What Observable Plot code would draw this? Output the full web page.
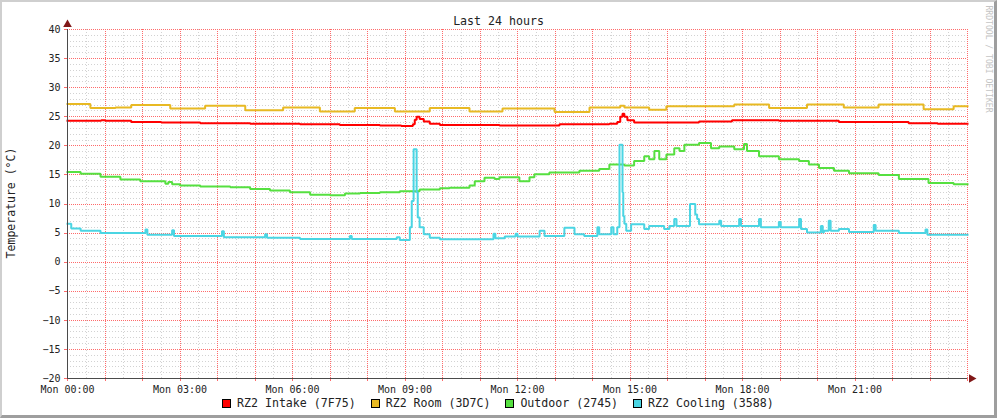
<!DOCTYPE html>
<html><head><meta charset="utf-8">
<script src="https://cdn.jsdelivr.net/npm/d3@7"></script>
<script src="https://cdn.jsdelivr.net/npm/@observablehq/plot@0.6"></script>
<style>
html,body{margin:0;padding:0;background:#fff;}
#wrap{position:relative;width:997px;height:418px;background:#fff;overflow:hidden;font-family:"DejaVu Sans Mono",monospace;color:#222;}
#frame{position:absolute;left:0;top:0;width:997px;height:418px;box-sizing:border-box;border-top:2px solid #cfcfcf;border-left:2px solid #cfcfcf;border-right:3px solid #9e9e9e;border-bottom:3px solid #9e9e9e;pointer-events:none;}
#chart{position:absolute;left:0;top:0;}
#title{position:absolute;left:0;top:14px;width:997px;text-align:center;font-size:11.6px;line-height:14px;color:#222;}
#ylabel{position:absolute;left:-89px;top:196px;width:200px;height:14px;line-height:14px;text-align:center;font-size:11.5px;transform:rotate(-90deg);color:#222;}
#credit{position:absolute;left:929px;top:54px;width:120px;height:10px;line-height:10px;text-align:center;font-size:8.1px;transform:rotate(90deg);color:#c4c4c4;}
#legend{position:absolute;left:222px;top:396px;display:flex;align-items:center;font-size:11.6px;line-height:14px;color:#222;white-space:pre;}
.item{display:flex;align-items:center;margin-right:15px;}
.box{width:9px;height:9px;box-sizing:border-box;border:1px solid #000;margin-right:6px;}
</style></head>
<body>
<div id="wrap">
  <div id="chart"></div>
  <div id="title"></div>
  <div id="ylabel"></div>
  <div id="credit"></div>
  <div id="legend"></div>
  <div id="frame"></div>
</div>
<script>
// ---- texts ----
const titleText = "Last 24 hours";
const yLabelText = "Temperature (°C)";
const creditText = "RRDTOOL / TOBI OETIKER";
const xTickHours = [0, 3, 6, 9, 12, 15, 18, 21];
const xTickLabels = ["Mon 00:00", "Mon 03:00", "Mon 06:00", "Mon 09:00", "Mon 12:00", "Mon 15:00", "Mon 18:00", "Mon 21:00"];
const yTicks = [-20, -15, -10, -5, 0, 5, 10, 15, 20, 25, 30, 35, 40];
const seriesNames = ["RZ2 Intake (7F75)", "RZ2 Room (3D7C)", "Outdoor (2745)", "RZ2 Cooling (3588)"];

// ---- data: [hour since Mon 00:00, °C] ----
const intake = [[0,24.3],[0.9,24.4],[1.0,24.3],[1.7,24.1],[2.5,24.0],[3.54,23.9],[4.87,23.8],[6.2,23.7],[7.26,23.6],[8.33,23.5],[8.9,23.4],[9.21,23.7],[9.26,24.5],[9.31,25.0],[9.39,24.6],[9.5,24.2],[9.66,23.8],[9.93,23.6],[11.52,23.5],[13.12,23.7],[14.45,23.8],[14.66,24.1],[14.74,25.0],[14.8,25.5],[14.85,25.0],[14.93,24.4],[15.11,24.0],[16.84,24.2],[17.72,24.4],[18.97,24.3],[20.57,24.1],[22.43,23.9],[23.2,23.8],[24,23.8]];
const room = [[0,27.2],[0.61,26.5],[1.28,26.6],[1.7,27.0],[2.74,26.4],[3.67,26.9],[4.74,26.1],[5.75,26.6],[6.73,25.9],[7.66,26.5],[8.73,25.9],[9.66,26.5],[10.72,25.9],[11.6,26.4],[12.99,25.8],[13.92,26.6],[14.74,26.9],[14.85,26.6],[15.51,26.2],[15.97,26.8],[17.78,27.1],[18.71,26.5],[19.72,27.1],[20.7,26.6],[21.63,27.1],[22.83,26.3],[23.63,26.8],[24,26.8]];
const outdoor = [[0,15.5],[0.35,15.2],[0.88,14.7],[1.41,14.2],[1.94,13.9],[2.61,13.5],[2.69,13.8],[2.79,13.4],[3.0,13.2],[3.54,13.0],[4.34,12.9],[4.87,12.6],[5.4,12.3],[5.93,12.0],[6.47,11.6],[7.0,11.5],[7.4,11.8],[7.8,11.9],[8.33,12.0],[8.86,12.2],[9.39,12.5],[9.93,12.7],[10.19,12.8],[10.72,13.2],[10.86,13.9],[11.12,14.5],[11.39,14.3],[11.52,14.6],[12.05,13.9],[12.32,14.6],[12.45,15.1],[12.85,15.4],[13.65,15.7],[14.18,16.0],[14.45,16.8],[14.85,16.6],[15.11,17.4],[15.38,18.2],[15.51,17.7],[15.65,19.1],[15.78,17.7],[15.97,18.5],[16.18,19.6],[16.32,19.1],[16.45,20.2],[16.84,20.5],[17.16,19.6],[17.38,19.9],[17.78,19.4],[18.04,20.3],[18.12,19.1],[18.44,18.2],[18.97,17.7],[19.51,17.4],[19.77,16.8],[20.04,16.2],[20.44,15.7],[20.84,15.3],[21.63,15.0],[22.17,14.3],[22.96,13.6],[23.63,13.4],[24,13.4]];
const cooling = [[0,6.6],[0.1,5.8],[0.35,5.4],[0.88,5.0],[2.08,5.6],[2.13,4.7],[2.79,5.5],[2.84,4.5],[4.12,5.3],[4.17,4.3],[5.27,4.8],[5.32,4.2],[6.2,4.0],[7.53,4.5],[7.58,4.0],[8.78,4.3],[8.86,3.8],[9.13,6.0],[9.18,10.5],[9.23,19.4],[9.31,12.0],[9.34,7.7],[9.39,6.0],[9.5,4.8],[9.66,4.2],[9.93,3.95],[11.36,4.9],[11.41,4.1],[11.66,4.4],[11.95,4.9],[12.0,4.4],[12.59,5.4],[12.72,4.5],[13.25,5.9],[13.52,4.8],[13.78,4.5],[14.13,6.0],[14.18,4.8],[14.5,6.0],[14.56,4.8],[14.66,6.0],[14.72,20.2],[14.8,12.0],[14.82,7.9],[14.85,6.6],[14.9,5.4],[15.03,6.5],[15.38,5.7],[15.51,6.2],[15.91,5.7],[16.05,6.2],[16.18,7.4],[16.24,6.2],[16.6,10.0],[16.74,8.2],[16.79,7.4],[16.84,6.5],[17.38,7.1],[17.43,6.2],[17.91,7.4],[17.96,6.2],[18.44,7.4],[18.49,6.0],[18.97,6.9],[19.02,6.0],[19.51,7.4],[19.56,5.7],[19.72,5.1],[20.09,6.2],[20.14,5.1],[20.17,5.4],[20.3,7.1],[20.35,5.4],[20.57,5.7],[20.84,5.2],[21.5,6.4],[21.55,5.4],[22.17,5.0],[22.88,5.6],[22.93,4.7],[24,4.7]];

// ---- styles ----
const colors = ["#ff0000", "#e8b923", "#56e040", "#4bd5e3"];
const majorGrid = "#ff6a6a", minorGrid = "#d2d2d2", axisColor = "#4a4a4a", arrowColor = "#801818";

const allSeries = [intake, room, outdoor, cooling];
const minorY = d3.range(-20, 41).filter(v => v % 5 !== 0);
const majorX = d3.range(0, 25);
const minorX = d3.range(0.5, 24, 1);
const crisp = {shapeRendering: "crispEdges", strokeDasharray: "1,1"};

const chart = Plot.plot({
  width: 997, height: 418,
  marginLeft: 67, marginRight: 30, marginTop: 29, marginBottom: 40,
  style: {fontFamily: "DejaVu Sans Mono", fontSize: "10px", background: "transparent", color: "#222"},
  x: {domain: [0, 24]},
  y: {domain: [-20, 40]},
  marks: [
    Plot.ruleY(minorY, {stroke: minorGrid, ...crisp, strokeDasharray: "1,2"}),
    Plot.ruleX(minorX, {stroke: minorGrid, ...crisp, strokeDasharray: "1,2"}),
    Plot.ruleY(yTicks, {stroke: majorGrid, ...crisp}),
    Plot.ruleX(majorX, {stroke: majorGrid, ...crisp}),
    Plot.axisX(majorX, {tickSize: 3, tickFormat: () => "", stroke: majorGrid, shapeRendering: "crispEdges", label: null}),
    Plot.axisY(yTicks, {tickSize: 3, tickPadding: 4, stroke: majorGrid, shapeRendering: "crispEdges", fill: "#222", label: null, fontSize: 10}),
    Plot.axisX(xTickHours, {tickSize: 0, tickPadding: 7, tickFormat: d => xTickLabels[xTickHours.indexOf(d)], fill: "#222", label: null, fontSize: 10}),
    ...allSeries.map((s, i) => Plot.line(s, {x: d => d[0], y: d => d[1], stroke: colors[i], strokeWidth: 2, curve: "step-after", strokeLinejoin: "miter", strokeLinecap: "square"})),
    Plot.ruleX([0], {y1: -20, y2: 40, stroke: axisColor, shapeRendering: "crispEdges"}),
    Plot.ruleY([-20], {x1: 0, x2: 24, stroke: axisColor, shapeRendering: "crispEdges"}),
    Plot.dot([[0, 40]], {x: d => d[0], y: d => d[1], symbol: "triangle", r: 3.2, dy: -5, fill: arrowColor, stroke: "none"}),
    Plot.dot([[24, -20]], {x: d => d[0], y: d => d[1], symbol: "triangle", rotate: 90, r: 3.2, dx: 4, fill: arrowColor, stroke: "none"})
  ]
});
document.getElementById("chart").appendChild(chart);
document.getElementById("title").textContent = titleText;
document.getElementById("ylabel").textContent = yLabelText;
document.getElementById("credit").textContent = creditText;
const legend = document.getElementById("legend");
seriesNames.forEach((n, i) => {
  const it = document.createElement("div"); it.className = "item";
  const b = document.createElement("div"); b.className = "box"; b.style.background = colors[i];
  const t = document.createElement("span"); t.textContent = n;
  it.appendChild(b); it.appendChild(t); legend.appendChild(it);
});
</script>
</body></html>
